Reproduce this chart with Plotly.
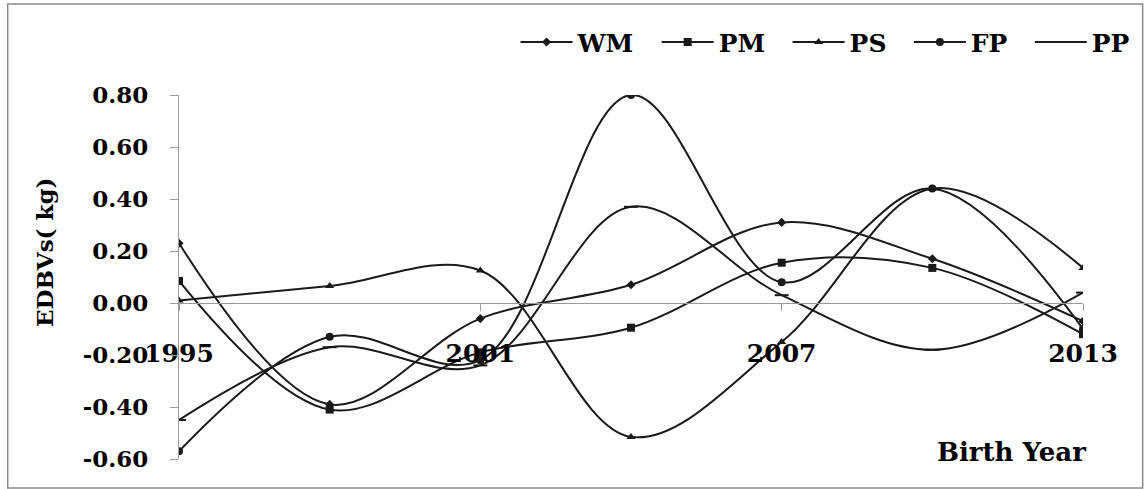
import plotly.graph_objects as go

years = [1995, 1998, 2001, 2004, 2007, 2010, 2013]
WM = [0.23, -0.39, -0.06, 0.07, 0.31, 0.17, -0.07]
PM = [0.085, -0.41, -0.19, -0.095, 0.155, 0.135, -0.12]
PS = [0.01, 0.065, 0.125, -0.515, -0.15, 0.44, 0.135]
FP = [-0.57, -0.13, -0.22, 0.80, 0.08, 0.44, -0.10]
PP = [-0.45, -0.17, -0.24, 0.37, 0.03, -0.18, 0.04]

x_ticks = [1995, 2001, 2007, 2013]
y_ticks = [-0.6, -0.4, -0.2, 0.0, 0.2, 0.4, 0.6, 0.8]
y_ticktext = ["%.2f" % v for v in y_ticks]

FONT = "DejaVu Serif"
LC = "#1a1a1a"
NB = "\u00a0"

series = [
    ("WM", WM, dict(symbol="diamond", size=7), 2),
    ("PM", PM, dict(symbol="square", size=8), 2),
    ("PS", PS, dict(symbol="triangle-up", size=8), 2),
    ("FP", FP, dict(symbol="circle", size=8), 2),
    ("PP", PP, dict(symbol="line-ew", size=10, line=dict(width=2, color=LC)), 0),
]

fig = go.Figure()
for name, vals, mk, pad in series:
    m = dict(color=LC)
    m.update(mk)
    fig.add_trace(go.Scatter(
        x=years, y=vals, name=name + NB * pad, mode="lines+markers",
        line=dict(color=LC, width=2, shape="spline", smoothing=1.0),
        marker=m,
    ))

ymin, ymax = -0.6, 0.8
fig.update_layout(
    width=1147, height=489,
    margin=dict(l=179, r=55, t=95, b=30),
    paper_bgcolor="white", plot_bgcolor="white",
    font=dict(family=FONT, color="black"),
    showlegend=True,
    legend=dict(
        orientation="h", x=1.0581, xanchor="right", y=1.145, yanchor="middle",
        font=dict(family=FONT, size=25, weight="bold", color="black"),
        bgcolor="rgba(0,0,0,0)", itemwidth=52,
    ),
    xaxis=dict(
        range=[1995, 2013], tickvals=x_ticks, ticktext=[str(t) for t in x_ticks],
        anchor="free", position=(0 - ymin) / (ymax - ymin),
        showline=True, linecolor="#9a9a9a", linewidth=1,
        ticks="outside", ticklen=7, tickcolor="#9a9a9a",
        showgrid=False, zeroline=False,
        tickfont=dict(family=FONT, size=25, weight="bold", color="black"),
        ticklabelstandoff=21,
    ),
    yaxis=dict(
        range=[ymin, ymax], tickvals=y_ticks, ticktext=y_ticktext,
        showline=True, linecolor="#9a9a9a", linewidth=1,
        ticks="outside", ticklen=8, tickcolor="#9a9a9a",
        showgrid=False, zeroline=False,
        tickfont=dict(family=FONT, size=23, weight="bold", color="black"),
        ticklabelstandoff=17,
    ),
    annotations=[
        dict(text="EDBVs( kg)", xref="paper", yref="paper", x=-0.148, y=0.569,
             textangle=-90, showarrow=False, xanchor="center", yanchor="middle",
             font=dict(family=FONT, size=23, weight="bold", color="black")),
        dict(text="Birth Year", xref="paper", yref="paper", x=0.921, y=0.019,
             showarrow=False, xanchor="center", yanchor="middle",
             font=dict(family=FONT, size=26, weight="bold", color="black")),
    ],
    shapes=[
        dict(type="rect", xref="paper", yref="paper", x0=-0.1895, x1=1.066,
             y0=-0.0797, y1=1.25, line=dict(color="#8a8a8a", width=1.5),
             fillcolor="rgba(0,0,0,0)", layer="below"),
    ],
)

fig.write_html("out.html", config={"displayModeBar": False},
               post_script="document.body.style.margin='0';document.body.style.overflow='hidden';")
